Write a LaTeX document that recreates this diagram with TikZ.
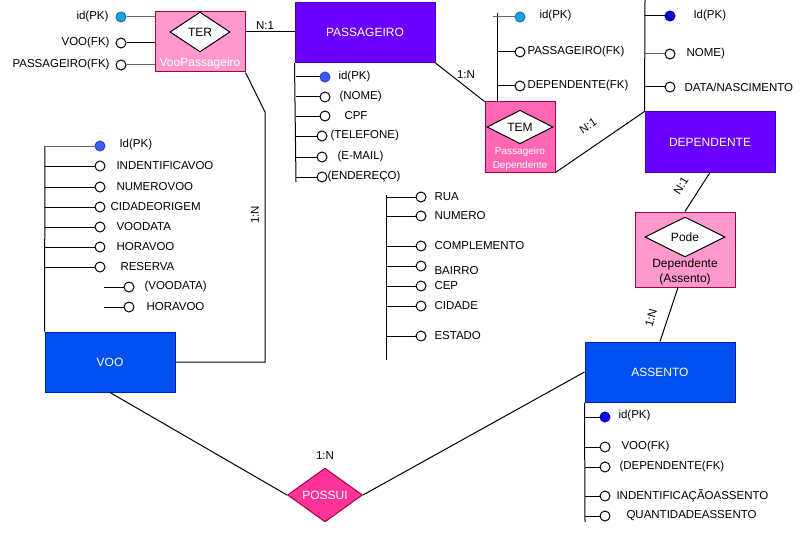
\documentclass[tikz,border=0pt]{standalone}
\usepackage{fontspec}
\setmainfont{Liberation Sans}
\usetikzlibrary{shapes.geometric}
\definecolor{roxo}{HTML}{6A00FF}
\definecolor{roxoesc}{HTML}{3700CC}
\definecolor{azul}{HTML}{0050EF}
\definecolor{azulesc}{HTML}{001DBC}
\definecolor{rosa}{HTML}{FF99CC}
\definecolor{rosaforte}{HTML}{FF66B3}
\definecolor{magenta}{HTML}{FF3399}
\definecolor{bordo}{HTML}{A50040}
\definecolor{ciano}{HTML}{1BA1E2}
\definecolor{azulpk}{HTML}{3F5BFF}
\definecolor{azulpkesc}{HTML}{0A0ACC}
\definecolor{cinza}{HTML}{666666}
\tikzset{
	entp/.style={draw=roxoesc,fill=roxo,text=white,minimum height=60pt,inner sep=0pt,font=\fontsize{12}{14}\selectfont},
	entv/.style={draw=azulesc,fill=azul,text=white,minimum height=60pt,inner sep=0pt,font=\fontsize{12}{14}\selectfont},
	relbox/.style={draw=bordo,fill=#1,inner sep=0pt},
	los/.style={diamond,draw=black,fill=white,inner sep=0pt,font=\fontsize{12}{14}\selectfont},
	cir/.style={draw,circle,inner sep=0pt,minimum size=10pt,fill=white},
	dot/.style={draw=#1!75!black,circle,inner sep=0pt,minimum size=10pt,fill=#1},
	att/.style={anchor=west,inner sep=0pt,font=\fontsize{11.5}{13}\selectfont},
	card/.style={inner sep=0pt,font=\fontsize{11.5}{13}\selectfont}
}
\begin{document}
\begin{tikzpicture}[x=1pt,y=-1pt,line width=1pt]
\useasboundingbox (0,0) rectangle (810,532);
% entidades
\node[entp,minimum width=140pt] (passageiro) at (365,32.5) {PASSAGEIRO};
\node[entp,minimum width=130pt] (dependente) at (710,142) {DEPENDENTE};
\node[entv,minimum width=130pt] (voo) at (110,362) {VOO};
\node[entv,minimum width=150pt] (assento) at (660,372) {ASSENTO};
% relacionamentos
\node[relbox=rosa,minimum width=90pt,minimum height=60pt] (ter) at (200,42) {};
\node[los,minimum width=60pt,minimum height=40pt] (terl) at (200,32) {TER};
\node[text=white,inner sep=0pt,font=\fontsize{12}{14}\selectfont] (tern) at (200,63) {VooPassageiro};
\node[relbox=rosaforte,minimum width=70pt,minimum height=70pt] (tem) at (520,137) {};
\node[los,minimum width=66pt,minimum height=26pt] (teml) at (520,127) {TEM};
\node[text=white,inner sep=0pt,align=center,font=\fontsize{10}{14}\selectfont] (temn) at (520,159) {Passageiro\\Dependente};
\node[relbox=rosa,minimum width=100pt,minimum height=75pt] (pode) at (685,249.5) {};
\node[los,minimum width=80pt,minimum height=40pt] (podel) at (685,237) {Pode};
\node[inner sep=0pt,align=center,font=\fontsize{12}{15}\selectfont] (poden) at (685,272) {Dependente\\(Assento)};
\node[diamond,draw=bordo,fill=magenta,text=white,inner sep=0pt,minimum width=75pt,minimum height=50pt,font=\fontsize{12}{14}\selectfont] (possui) at (325,495) {POSSUI};
% ligacoes
\draw (terl -| ter.east) -- (terl -| passageiro.west);
\node[card] (c1) at (265,26) {N:1};
\coordinate (dobra) at (265,112);
\draw (ter.south east) -- (dobra) -- (dobra |- voo) -- (voo.east);
\node[card,rotate=90] (c2) at (255,215) {1:N};
\draw (passageiro.south east) -- (tem.north west);
\node[card] (c3) at (466,75) {1:N};
\draw (tem.south east) -- (dependente.north west);
\node[card,rotate=34] (c4) at (588,126) {N:1};
\draw (dependente.south) -- (pode.north);
\node[card,rotate=58] (c5) at (681,186) {N:1};
\draw ([xshift=-7pt]pode.south) -- (assento.north);
\node[card,rotate=74] (c6) at (651,318) {1:N};
\draw (voo.south) -- (possui.west);
\draw (possui.east) -- (assento.west);
\node[card] (c7) at (325,456) {1:N};
% atributos TER
\node[dot=ciano] (ter1) at (121,17) {};
\node[cir] (ter2) at (121,43) {};
\node[cir] (ter3) at (121,65) {};
\draw[cinza] (ter1) -- (ter1 -| ter.west);
\draw (ter2) -- (ter2 -| ter.west);
\draw[cinza] (ter3) -- (ter3 -| ter.west);
\node[att,anchor=east] (ter1l) at (109,17) {id(PK)};
\node[att,anchor=east] (ter2l) at (110,43) {VOO(FK)};
\node[att,anchor=east] (ter3l) at (110,65) {PASSAGEIRO(FK)};
% atributos PASSAGEIRO
\coordinate (pasf) at (296,182);
\draw (passageiro.south west) -- (pasf);
\coordinate (pasr1) at (296,77);
\node[dot=azulpk] (pas1) at (325,77) {};
\draw (pasr1) -- (pas1);
\node[att] (pasl1) at (338,77) {id(PK)};
\foreach \i/\y/\x/\lx/\t in {2/97/325/339/{(NOME)},3/116/325/344/{CPF},4/136/322/330/{(TELEFONE)},5/157/322/337/{(E-MAIL)},6/177/322/327/{(ENDEREÇO)}}{
	\coordinate (pasr\i) at (296,\y);
	\node[cir] (pas\i) at (\x,\y) {};
	\draw (pasr\i) -- (pas\i);
	\node[att] (pasl\i) at (\lx,\y) {\t};
}
% atributos ENDERECO
\coordinate (endi) at (386,195);
\coordinate (endf) at (386,360);
\draw (endi) -- (endf);
\foreach \i/\y/\ly/\t in {1/197/197/{RUA},2/216/216/{NUMERO},3/246/246/{COMPLEMENTO},4/266/271/{BAIRRO},5/286/286/{CEP},6/306/306/{CIDADE},7/336/336/{ESTADO}}{
	\coordinate (endr\i) at (386,\y);
	\node[cir] (end\i) at (421,\y) {};
	\draw (endr\i) -- (end\i);
	\node[att] (endl\i) at (434,\ly) {\t};
}
% atributos TEM
\coordinate (temi) at (497,13);
\draw (temi) -- (temi |- tem.north);
\coordinate (temr1) at (493,17);
\node[dot=ciano] (tem1) at (520,17) {};
\draw[cinza] (temr1) -- (tem1);
\node[att] (teml1) at (539,16) {id(PK)};
\coordinate (temr2) at (497,52);
\node[cir] (tem2) at (520,52) {};
\draw (temr2) -- (tem2);
\node[att] (teml2) at (527,52) {PASSAGEIRO(FK)};
\coordinate (temr3) at (497,86);
\node[cir] (tem3) at (520,86) {};
\draw (temr3) -- (tem3);
\node[att] (teml3) at (527,86) {DEPENDENTE(FK)};
% atributos DEPENDENTE
\coordinate (depi) at (645,0);
\draw (depi) -- (dependente.north west);
\coordinate (depr1) at (645,16);
\node[dot=azulpkesc] (dep1) at (670,16) {};
\draw (depr1) -- (dep1);
\node[att] (depl1) at (693,16) {Id(PK)};
\coordinate (depr2) at (645,54);
\node[cir] (dep2) at (670,54) {};
\draw[cinza] (depr2) -- (dep2);
\node[att] (depl2) at (686,54) {NOME)};
\coordinate (depr3) at (645,87);
\node[cir] (dep3) at (670,87) {};
\draw (depr3) -- (dep3);
\node[att] (depl3) at (684,87) {DATA/NASCIMENTO};
% atributos VOO
\coordinate (vooi) at (45,146);
\draw (vooi) -- (voo.north west);
\coordinate (voor1) at (45,146);
\node[dot=azulpk] (voo1) at (100,146) {};
\draw[cinza] (voor1) -- (voo1);
\node[att] (vool1) at (119,145) {Id(PK)};
\foreach \i/\y/\lx/\t in {2/166/116/{INDENTIFICAVOO},3/187/116/{NUMEROVOO},4/207/110/{CIDADEORIGEM},5/227/116/{VOODATA},6/247/116/{HORAVOO},7/267/120/{RESERVA}}{
	\coordinate (voor\i) at (45,\y);
	\node[cir] (voo\i) at (100,\y) {};
	\draw (voor\i) -- (voo\i);
	\node[att] (vool\i) at (\lx,\y) {\t};
}
\foreach \i/\y/\lx/\t in {8/287/144/{(VOODATA)},9/307/146/{HORAVOO}}{
	\coordinate (voor\i) at (104,\y);
	\node[cir] (voo\i) at (129,\y) {};
	\draw (voor\i) -- (voo\i);
	\node[att] (vool\i) at (\lx,\y) {\t};
}
% atributos ASSENTO
\coordinate (assf) at (585,522);
\draw (assento.south west) -- (assf);
\coordinate (assr1) at (585,417);
\node[dot=blue] (ass1) at (605,417) {};
\draw (assr1) -- (ass1);
\node[att] (assl1) at (618,416) {id(PK)};
\foreach \i/\y/\lx/\t in {2/447/621/{VOO(FK)},3/467/619/{(DEPENDENTE(FK)},4/496/616/{INDENTIFICAÇÃOASSENTO},5/516/626/{QUANTIDADEASSENTO}}{
	\coordinate (assr\i) at (585,\y);
	\node[cir] (ass\i) at (605,\y) {};
	\draw (assr\i) -- (ass\i);
	\node[att] (assl\i) at (\lx,\y) {\t};
}
\end{tikzpicture}
\end{document}
